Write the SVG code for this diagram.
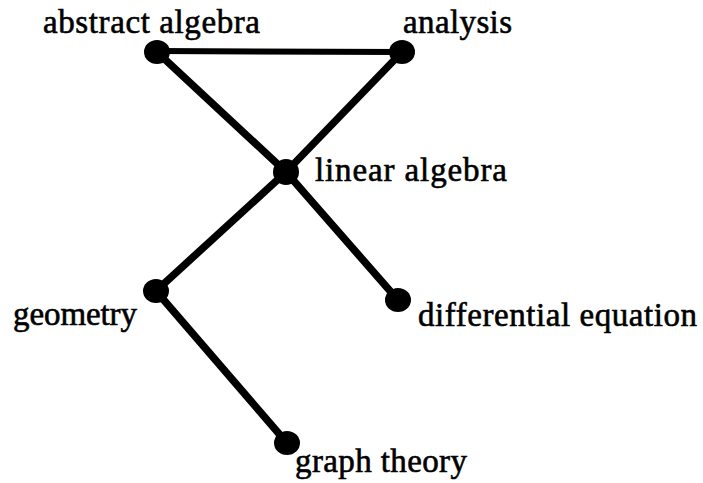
<svg xmlns="http://www.w3.org/2000/svg" width="703" height="483" viewBox="0 0 703 483">
<style>
.edge{stroke:#000;stroke-width:7.5;stroke-linecap:round;fill:none}
.dot{fill:#000}
text{font-family:'Liberation Serif','Times New Roman',serif;font-size:33px;fill:#000;stroke:#000;stroke-width:0.6}
</style>
<rect width="703" height="483" fill="#fff"/>
<g id="connectors">
<line class="edge" x1="157" y1="51" x2="402" y2="52" style="stroke-width:6"/>
<line class="edge" x1="157" y1="52" x2="286" y2="172"/>
<line class="edge" x1="402" y1="52" x2="286" y2="172"/>
<line class="edge" x1="286" y1="172" x2="156" y2="291"/>
<line class="edge" x1="286" y1="172" x2="398" y2="300"/>
<line class="edge" x1="156" y1="291" x2="287" y2="443"/>
</g>
<g id="abstract-algebra">
<ellipse class="dot" cx="157" cy="52" rx="13" ry="12"/>
<text x="43" y="33" textLength="217">abstract algebra</text>
</g>
<g id="analysis">
<ellipse class="dot" cx="402" cy="52" rx="13" ry="12"/>
<text x="403" y="33" textLength="109">analysis</text>
</g>
<g id="linear-algebra">
<ellipse class="dot" cx="286" cy="172" rx="13" ry="13"/>
<text x="315" y="181" textLength="192">linear algebra</text>
</g>
<g id="geometry">
<ellipse class="dot" cx="156" cy="291" rx="13" ry="12"/>
<text x="13" y="325" textLength="124">geometry</text>
</g>
<g id="differential-equation">
<ellipse class="dot" cx="398" cy="300" rx="13" ry="12"/>
<text x="418" y="326" textLength="279">differential equation</text>
</g>
<g id="graph-theory">
<ellipse class="dot" cx="287" cy="443" rx="13" ry="12"/>
<text x="295" y="472" textLength="172">graph theory</text>
</g>
</svg>
